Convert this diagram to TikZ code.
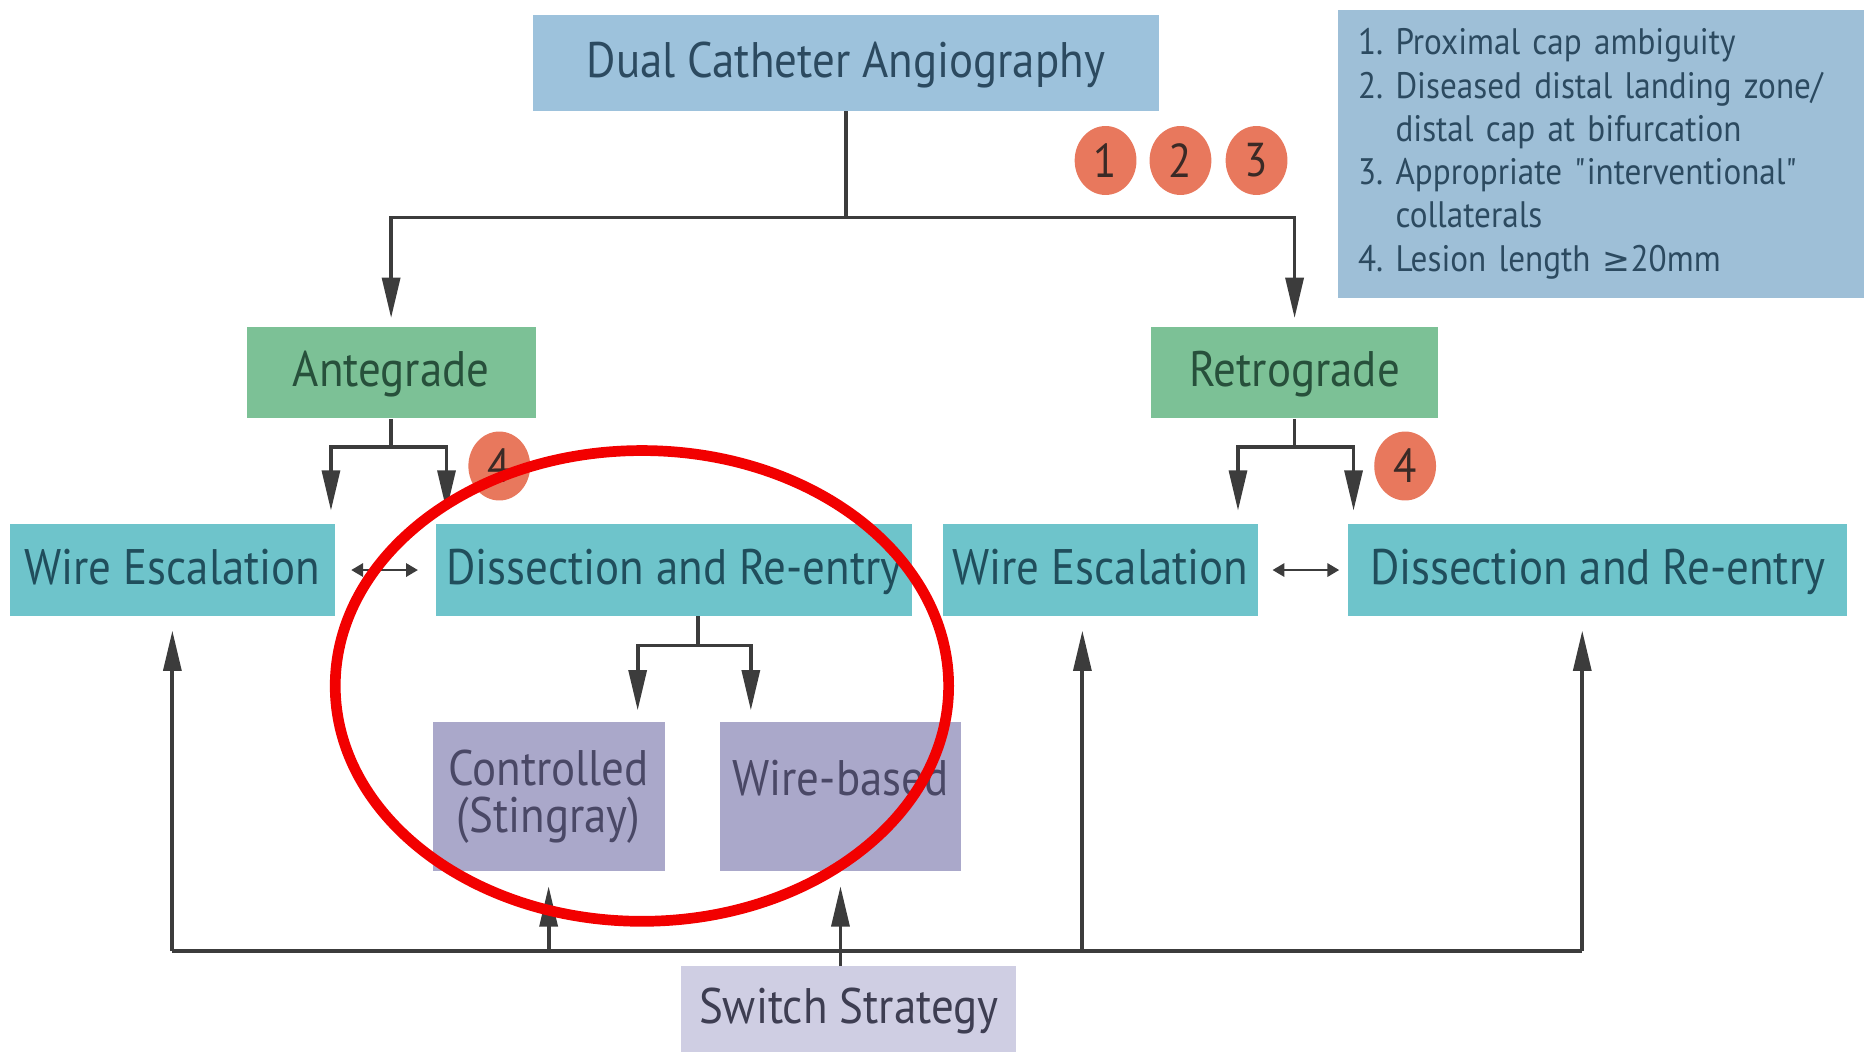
\documentclass[tikz,border=0pt]{standalone}
\usepackage{fontspec}
\setmainfont{PT Sans}[FakeStretch=0.9]
\newfontfamily\mathsymfont{DejaVu Sans}
\usetikzlibrary{arrows.meta,shapes.geometric}

\definecolor{topblue}{HTML}{9DC2DC}
\definecolor{infoblue}{HTML}{9EBFD7}
\definecolor{greenbox}{HTML}{7CC196}
\definecolor{tealbox}{HTML}{6EC4CB}
\definecolor{purplebox}{HTML}{AAA8CA}
\definecolor{lavbox}{HTML}{CFCEE3}
\definecolor{badgefill}{HTML}{E8785D}
\definecolor{badgeink}{HTML}{3A2A26}
\definecolor{linegray}{HTML}{3C3C3C}
\definecolor{inkblue}{HTML}{2C4A60}
\definecolor{inkgreen}{HTML}{27503B}
\definecolor{inkteal}{HTML}{204E5C}
\definecolor{inkpurple}{HTML}{4A4866}
\definecolor{inkgrey}{HTML}{3E3E52}
\definecolor{marker}{HTML}{F20000}

\newcommand{\boxfont}{\fontsize{21}{20}\selectfont}

\begin{document}
\frenchspacing
\begin{tikzpicture}[x=0.5pt,y=-0.5pt,
  box/.style={rectangle, inner sep=0pt, font=\boxfont},
  oneline/.style={text height=12pt, text depth=0pt},
  badge/.style={ellipse, fill=badgefill, minimum width=26pt, minimum height=29pt,
    inner sep=0pt, text=badgeink, font=\fontsize{20}{20}\selectfont},
  link/.style={draw=linegray, line width=1.6pt},
  arr/.style={-{Triangle[length=17pt,width=7.5pt]}},
  dbl/.style={{Triangle[length=5pt,width=5.5pt]}-{Triangle[length=5pt,width=5.5pt]}, line width=1.2pt}]

\useasboundingbox (0,0) rectangle (1568,885);

% top level
\node[box, oneline, fill=topblue, text=inkblue, minimum width=263.5pt, minimum height=40pt] (dca) at (711.5,53) {Dual Catheter Angiography};

% criteria legend
\node[anchor=north west, fill=infoblue, text=inkblue, minimum width=230pt, minimum height=121pt,
  text width=215pt, inner xsep=8.5pt, align=left, font=\fontsize{15.5}{18.2}\selectfont] (crit) at (1125,8)
  {1. Proximal cap ambiguity\\
   2. Diseased distal landing zone/\\
   \hphantom{2.\ }distal cap at bifurcation\\
   3. Appropriate \textquotedbl interventional\textquotedbl\\
   \hphantom{3.\ }collaterals\\
   4. Lesion length {\mathsymfont\fontsize{14}{18.2}\selectfont ≥}20mm};

\node[badge] (b1) at (930,135) {1};
\node[badge] (b2) at (993,135) {2};
\node[badge] (b3) at (1057,135) {3};

% approach
\node[box, oneline, fill=greenbox, text=inkgreen, minimum width=121.5pt, minimum height=38.5pt] (ante) at (329,313.5) {Antegrade};
\node[box, oneline, fill=greenbox, text=inkgreen, minimum width=121pt, minimum height=38.5pt] (retro) at (1089,313.5) {Retrograde};

\node[badge] (b4l) at (420,392) {4};
\node[badge] (b4r) at (1182,392) {4};

% techniques
\node[box, oneline, fill=tealbox, text=inkteal, minimum width=137pt, minimum height=38.5pt] (weL) at (145,479.5) {Wire Escalation};
\node[box, oneline, fill=tealbox, text=inkteal, minimum width=200pt, minimum height=38.5pt] (drL) at (567,479.5) {Dissection and Re-entry};
\node[box, oneline, fill=tealbox, text=inkteal, minimum width=132.5pt, minimum height=38.5pt] (weR) at (925.5,479.5) {Wire Escalation};
\node[box, oneline, fill=tealbox, text=inkteal, minimum width=210pt, minimum height=38.5pt] (drR) at (1344,479.5) {Dissection and Re-entry};

% dissection variants
\node[box, fill=purplebox, text=inkpurple, minimum width=97.5pt, minimum height=63pt, align=center,
  font=\fontsize{21}{20}\selectfont] (ctrl) at (461.5,670) {Controlled\\(Stingray)};
\node[box, oneline, fill=purplebox, text=inkpurple, minimum width=101pt, minimum height=63pt] (wire) at (707,670) {\raisebox{6.5pt}{Wire-based}};

\node[box, oneline, fill=lavbox, text=inkgrey, minimum width=141pt, minimum height=36pt] (sw) at (714,849) {Switch Strategy};

% connectors: top split
\coordinate (tbus) at (0,183);
\draw[link] (dca.south) -- (dca.south |- tbus);
\draw[link,arr,shorten >=3.5pt] (dca.south |- tbus) -| (ante.north);
\draw[link,arr,shorten >=3.5pt] (dca.south |- tbus) -| (retro.north);

% antegrade split
\coordinate (abus) at (0,376);
\draw[link] (ante.south) -- (ante.south |- abus);
\draw[link,arr,shorten >=5.5pt] (ante.south |- abus) -| ([xshift=-2pt]weL.north east);
\draw[link,arr,shorten >=5.5pt] (ante.south |- abus) -| ([xshift=4.5pt]drL.north west);

% retrograde split
\draw[link] (retro.south) -- (retro.south |- abus);
\draw[link,arr,shorten >=5.5pt] (retro.south |- abus) -| ([xshift=-8.5pt]weR.north east);
\draw[link,arr,shorten >=5.5pt] (retro.south |- abus) -| ([xshift=2.5pt]drR.north west);

% two-way links
\draw[link,dbl] ([xshift=6.5pt]weL.east) -- ([xshift=-7.5pt]drL.west);
\draw[link,dbl] ([xshift=6pt]weR.east) -- ([xshift=-3.5pt]drR.west);

% dissection split
\coordinate (dbus) at (0,543);
\coordinate (dsrc) at ([xshift=10pt]drL.south);
\draw[link] (dsrc) -- (dsrc |- dbus);
\draw[link,arr,shorten >=4.5pt] (dsrc |- dbus) -| ([xshift=-11.5pt]ctrl.north east);
\draw[link,arr,shorten >=4.5pt] (dsrc |- dbus) -| ([xshift=13pt]wire.north west);

% switch strategy bus
\coordinate (bbus) at (0,800);
\draw[link] (weL.south |- bbus) -- ([xshift=-6.5pt]drR.south |- bbus);
\draw[link,arr,shorten >=6pt] (weL.south |- bbus) -- (weL.south);
\draw[link,arr,shorten >=6pt] (ctrl.south |- bbus) -- (ctrl.south);
\draw[link,arr,shorten >=6pt] (wire.south |- sw.north) -- (wire.south);
\draw[link,arr,shorten >=6pt] ([xshift=-7.5pt]weR.south |- bbus) -- ([xshift=-7.5pt]weR.south);
\draw[link,arr,shorten >=6pt] ([xshift=-6.5pt]drR.south |- bbus) -- ([xshift=-6.5pt]drR.south);

% highlight ring
\draw[marker, line width=4.5pt] (540,577) ellipse [x radius=258, y radius=198];
\end{tikzpicture}
\end{document}
